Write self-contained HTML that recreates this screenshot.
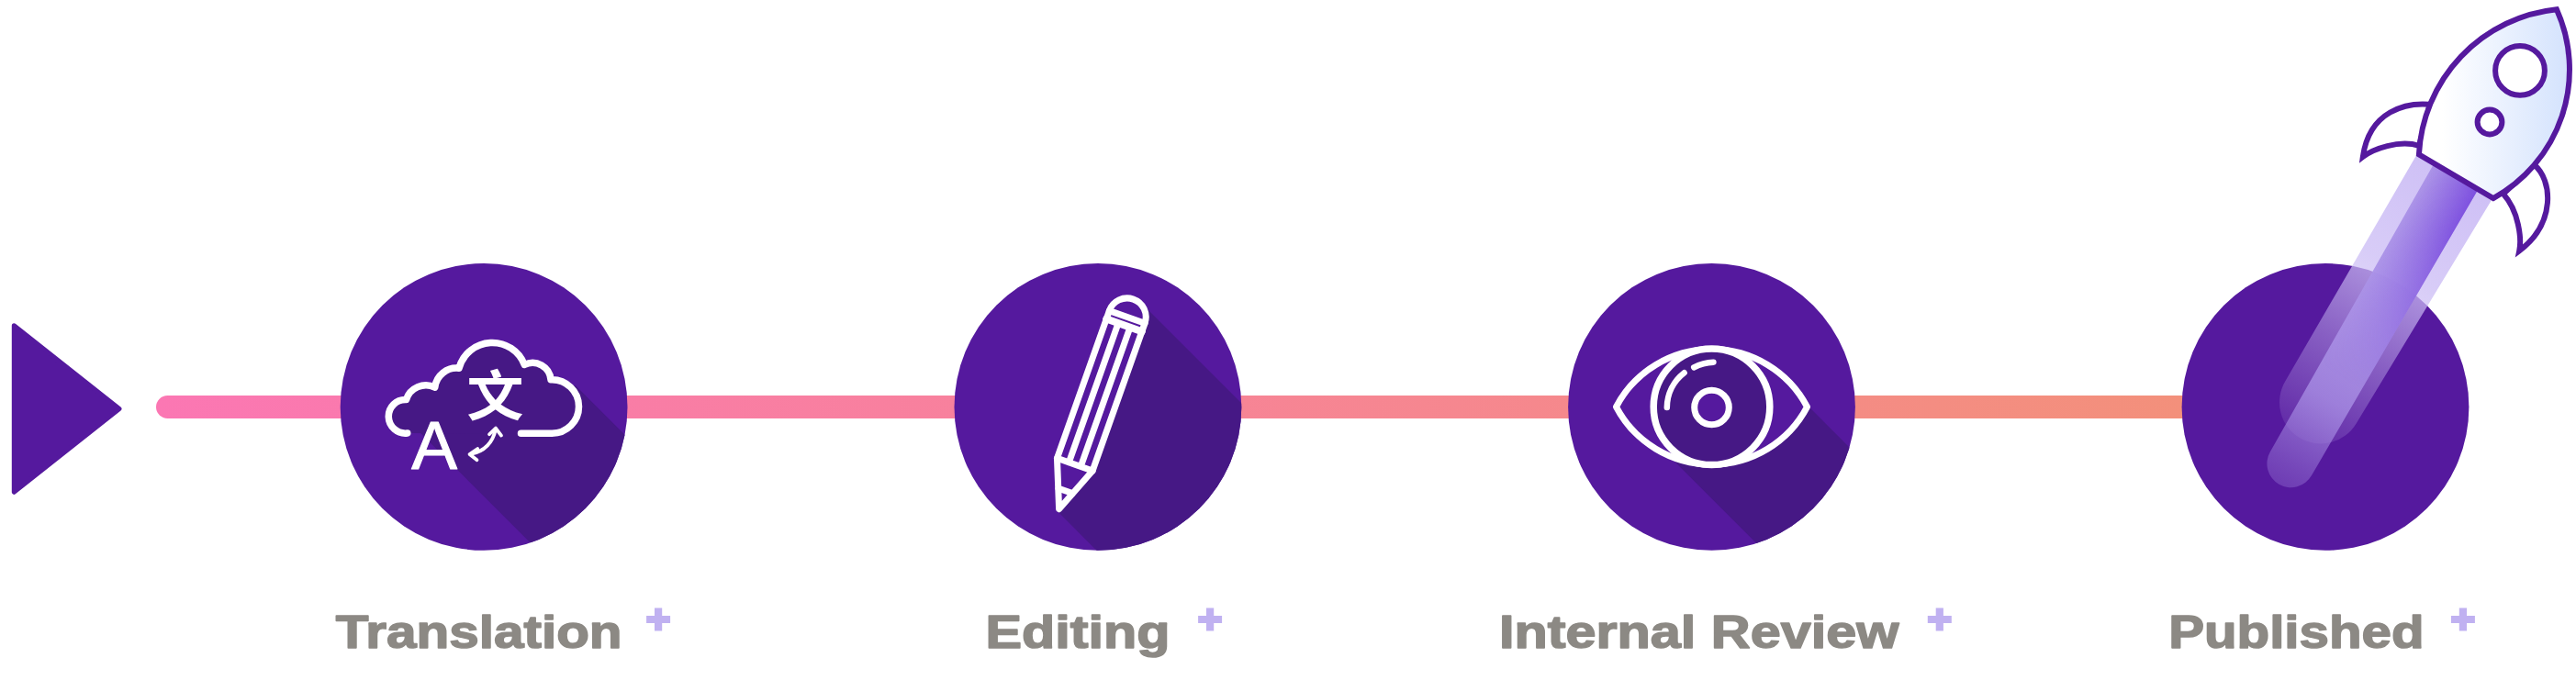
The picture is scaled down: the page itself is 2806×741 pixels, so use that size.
<!DOCTYPE html>
<html lang="en">
<head>
<meta charset="utf-8">
<title>Workflow</title>
<style>
  html, body { margin: 0; padding: 0; background: #ffffff; }
  body { width: 2806px; height: 741px; overflow: hidden; position: relative; }
  svg { position: absolute; left: 0; top: 0; display: block; }
  .lbl { font-family: "Liberation Sans", sans-serif; font-weight: 700; font-size: 49.6px; fill: #8c8984; stroke: #8c8984; stroke-width: 1.5px; stroke-linejoin: round; }
  .plus { fill: #c0b1f1; }
  .ico { fill: none; stroke: #ffffff; stroke-linecap: round; stroke-linejoin: round; }
</style>
</head>
<body>
<svg width="2806" height="741" viewBox="0 0 2806 741">
  <defs>
    <linearGradient id="lineGrad" gradientUnits="userSpaceOnUse" x1="170" y1="0" x2="2380" y2="0">
      <stop offset="0" stop-color="#fb77b3"/>
      <stop offset="1" stop-color="#f3907b"/>
    </linearGradient>
    <clipPath id="c1"><circle cx="527.1" cy="443.4" r="156.4"/></clipPath>
    <clipPath id="c2"><circle cx="1195.9" cy="443.4" r="156.4"/></clipPath>
    <clipPath id="c3"><circle cx="1864.5" cy="443.4" r="156.4"/></clipPath>
    <linearGradient id="bodyGrad" gradientUnits="userSpaceOnUse" x1="-12.9" y1="7.6" x2="107.7" y2="-63.4">
      <stop offset="0" stop-color="#ffffff"/>
      <stop offset="1" stop-color="#d3e2fd"/>
    </linearGradient>
    <linearGradient id="wideFade" gradientUnits="userSpaceOnUse" x1="0" y1="0" x2="0" y2="333">
      <stop offset="0" stop-color="#ccbdf5" stop-opacity="0.95"/>
      <stop offset="0.36" stop-color="#ccbdf5" stop-opacity="0.77"/>
      <stop offset="0.66" stop-color="#ccbdf5" stop-opacity="0.43"/>
      <stop offset="1" stop-color="#ccbdf5" stop-opacity="0.1"/>
    </linearGradient>
    <linearGradient id="innerFade" gradientUnits="userSpaceOnUse" x1="0" y1="0" x2="0" y2="389">
      <stop offset="0" stop-color="#ac94e8" stop-opacity="1"/>
      <stop offset="0.35" stop-color="#ac94e8" stop-opacity="0.95"/>
      <stop offset="0.72" stop-color="#ac94e8" stop-opacity="0.74"/>
      <stop offset="0.93" stop-color="#ac94e8" stop-opacity="0.38"/>
      <stop offset="1" stop-color="#ac94e8" stop-opacity="0.28"/>
    </linearGradient>
    <linearGradient id="innerCol" gradientUnits="userSpaceOnUse" x1="-28" y1="0" x2="28" y2="0">
      <stop offset="0" stop-color="#7848de" stop-opacity="0"/>
      <stop offset="1" stop-color="#7848de" stop-opacity="0.9"/>
    </linearGradient>
    <linearGradient id="ovFade" gradientUnits="userSpaceOnUse" x1="0" y1="0" x2="0" y2="389">
      <stop offset="0" stop-color="#ffffff" stop-opacity="1"/>
      <stop offset="0.15" stop-color="#ffffff" stop-opacity="0.9"/>
      <stop offset="0.65" stop-color="#ffffff" stop-opacity="0"/>
    </linearGradient>
    <mask id="innerMask" maskUnits="userSpaceOnUse" x="-60" y="-80" width="120" height="500">
      <rect x="-60" y="-80" width="120" height="500" fill="url(#ovFade)"/>
    </mask>
  </defs>

  <!-- start triangle -->
  <polygon points="15.3,354.7 130,445.5 15.3,536.3" fill="#55199e" stroke="#55199e" stroke-width="5" stroke-linejoin="round"/>

  <!-- progress line -->
  <rect x="170" y="431" width="2230" height="25" rx="12.5" fill="url(#lineGrad)"/>

  <!-- circle 1 : translation -->
  <circle cx="527.1" cy="443.4" r="156.4" fill="#55199e"/>
  <g clip-path="url(#c1)">
    <g transform="translate(410,360) scale(0.25)">
      <polygon points="193,448 1693,1948 2367,1740 867,240" fill="#461885"/>
      <path d="M135,448 A73.3,73.3 0 1 1 130,302 A90,90 0 0 1 255,248 A95,95 0 0 1 360,165 A150,150 0 0 1 645,150 A80,80 0 0 1 760,215 A117,117 0 0 1 882,332 A117,117 0 0 1 765,449 L630,449" fill="#461885" stroke="none"/>
    </g>
  </g>
  <g transform="translate(410,360) scale(0.25)" class="ico">
    <path d="M135,448 A73.3,73.3 0 1 1 130,302 A90,90 0 0 1 255,248 A95,95 0 0 1 360,165 A150,150 0 0 1 645,150 A80,80 0 0 1 760,215 A117,117 0 0 1 882,332 A117,117 0 0 1 765,449 L630,449" stroke-width="30"/>
    <path d="M410,540 Q500,522 520,430 M441,516 L406,540 L438,565 M492,453 L520,426 L544,458" stroke-width="15"/>
  </g>

  <text x="448.3" y="510.5" font-family="'Liberation Sans', sans-serif" font-size="74.6" fill="#ffffff" stroke="#ffffff" stroke-width="1.1" stroke-linejoin="round">A</text>
  <text transform="translate(508.4,452.7) scale(1.05,1)" font-family="'Liberation Sans', 'Noto Sans CJK SC', sans-serif" font-weight="700" font-size="58.9" fill="#ffffff">文</text>

  <!-- circle 2 : editing -->
  <circle cx="1195.9" cy="443.4" r="156.4" fill="#55199e"/>
  <g clip-path="url(#c2)">
    <polygon points="1246,333 2246,1333 2152.5,1557.8 1152.5,557.8" fill="#461885"/>
  </g>
  <g transform="translate(1153.6,554.7) rotate(19.5)" class="ico" stroke-width="7">
    <path d="M0,0 L-20.5,-51.5 L-20.5,-222 A20.5,20.5 0 0 1 20.5,-222 L20.5,-51.5 Z" fill="#55199e"/>
    <path d="M-20.5,-51.5 L20.5,-51.5 M-8,-21 L8,-21 M-6.83,-51.5 L-6.83,-212 M6.83,-51.5 L6.83,-212"/>
    <path d="M-20.5,-222 L20.5,-222" stroke-width="7"/>
    <path d="M-20.5,-212.5 L20.5,-212.5" stroke-width="8"/>
  </g>

  <!-- circle 3 : internal review -->
  <circle cx="1864.5" cy="443.4" r="156.4" fill="#55199e"/>
  <g clip-path="url(#c3)">
    <g transform="translate(1864.5,443.3)">
      <polygon points="-100,0 900,1000 1105.9,1000 105.9,0" fill="#461885"/>
    </g>
  </g>
  <g transform="translate(1864.5,443.3)" class="ico" stroke-width="7">
    <path d="M-104,0 A117.5,117.5 0 0 1 104,0 A117.5,117.5 0 0 1 -104,0 Z" fill="#55199e"/>
    <circle cx="0" cy="0" r="63.3" fill="#461885" stroke-width="7.5"/>
    <circle cx="0" cy="0.7" r="18.8" fill="#55199e"/>
    <path d="M-48.7,0.7 A48.5,48.5 0 0 1 -29.9,-37" stroke-width="6.5"/>
    <path d="M-19.3,-43 A48.5,48.5 0 0 1 1.9,-48.6" stroke-width="6.5"/>
  </g>

  <!-- circle 4 : published -->
  <circle cx="2533" cy="443.4" r="156.4" fill="#55199e"/>

  <!-- rocket + flame -->
  <g transform="translate(2675.4,192.2) rotate(30.9)">
    <path d="M-49.3,-20 L-45,287 A45,45 0 0 0 45,287 L46.5,-20 Z" fill="url(#wideFade)"/>
  </g>
  <g transform="translate(2675.4,192.2) rotate(29.9)">
    <path id="innerBar" d="M-28,-20 L-26,361 A26,26 0 0 0 26,361 L28,-20 Z" fill="url(#innerFade)"/>
    <g mask="url(#innerMask)">
      <path d="M-28,-20 L-26,361 A26,26 0 0 0 26,361 L28,-20 Z" fill="url(#innerCol)"/>
    </g>
  </g>
  <g transform="translate(2675.4,192.2) rotate(30.5)" fill="#ffffff" stroke="#55199e" stroke-width="6" stroke-linejoin="miter" stroke-miterlimit="10">
    <path d="M-64.5,-53 C-87.2,-42.2 -118,-14 -98.3,33.2 C-93,20 -74,-3 -51.6,-8.4 Z"/>
    <path d="M67,-54 C92,-50 120,-12 100.5,35 C96,22 78,-2 54,-9.6 Z"/>
  </g>
  <g transform="translate(2675.4,192.2) rotate(30.5)" stroke="#55199e" stroke-width="6" stroke-linejoin="miter">
    <path d="M-47,0 A167.7,167.7 0 0 1 2,-212.4 A160,160 0 0 1 47,0 Z" fill="url(#bodyGrad)"/>
  </g>
  <circle cx="2745" cy="76.9" r="26.9" fill="#ffffff" stroke="#55199e" stroke-width="6"/>
  <circle cx="2712" cy="133" r="13.4" fill="#ffffff" stroke="#55199e" stroke-width="6"/>

  <!-- labels -->
  <text class="lbl" x="365.7" y="706.1" textLength="311.9" lengthAdjust="spacingAndGlyphs">Translation</text>
  <text class="lbl" x="1073.4" y="706.1" textLength="201" lengthAdjust="spacingAndGlyphs">Editing</text>
  <text class="lbl" x="1632.9" y="706.1" textLength="435.5" lengthAdjust="spacingAndGlyphs">Internal Review</text>
  <text class="lbl" x="2362.2" y="706.1" textLength="278.3" lengthAdjust="spacingAndGlyphs">Published</text>

  <!-- plus signs -->
  <path class="plus" d="M713,662.5h8.2v8.4h8.9v8.1h-8.9v8.4h-8.2v-8.4h-8.9v-8.1h8.9z"/>
  <path class="plus" d="M1314,662.5h8.2v8.4h8.9v8.1h-8.9v8.4h-8.2v-8.4h-8.9v-8.1h8.9z"/>
  <path class="plus" d="M2108.7,662.5h8.2v8.4h8.9v8.1h-8.9v8.4h-8.2v-8.4h-8.9v-8.1h8.9z"/>
  <path class="plus" d="M2678.8,662.5h8.2v8.4h8.9v8.1h-8.9v8.4h-8.2v-8.4h-8.9v-8.1h8.9z"/>
</svg>
</body>
</html>
